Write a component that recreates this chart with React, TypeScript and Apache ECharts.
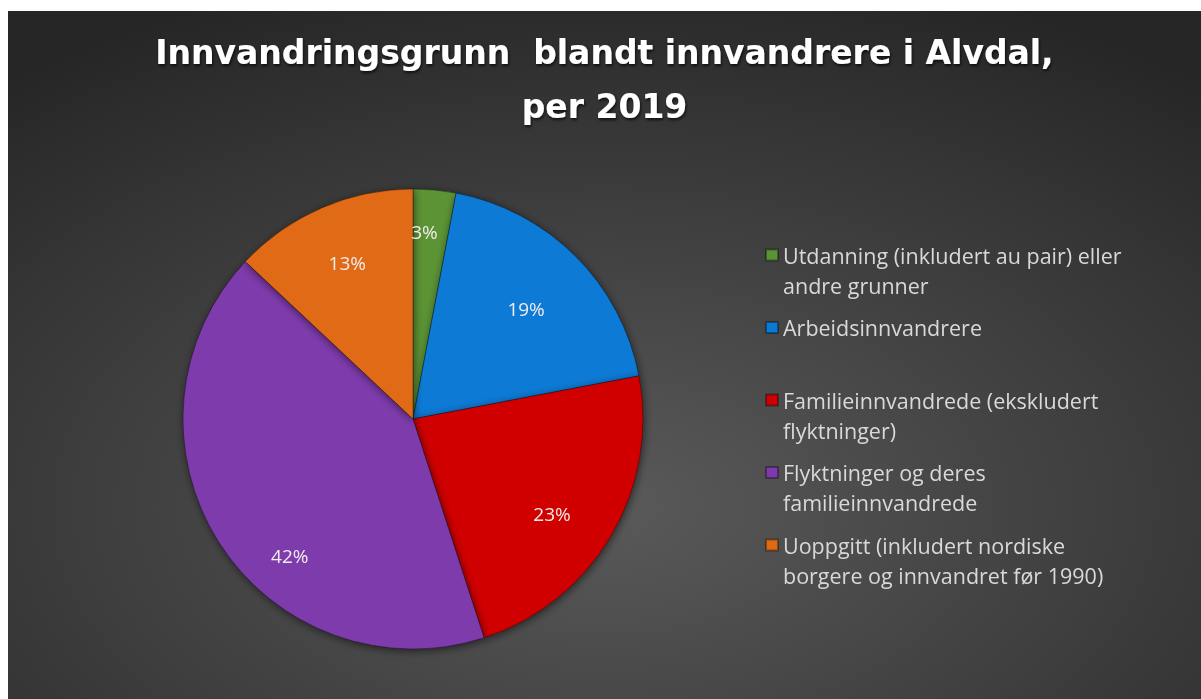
import React, { useEffect, useRef } from "react";
import * as echarts from "echarts";

const titleText = "Innvandringsgrunn  blandt innvandrere i Alvdal,\nper 2019";
const categories = [
  "Utdanning (inkludert au pair) eller andre grunner",
  "Arbeidsinnvandrere",
  "Familieinnvandrede (ekskludert flyktninger)",
  "Flyktninger og deres familieinnvandrede",
  "Uoppgitt (inkludert nordiske borgere og innvandret før 1990)",
];
const legendLines = [
  "Utdanning (inkludert au pair) eller\nandre grunner",
  "Arbeidsinnvandrere\n ",
  "Familieinnvandrede (ekskludert\nflyktninger)",
  "Flyktninger og deres\nfamilieinnvandrede",
  "Uoppgitt (inkludert nordiske\nborgere og innvandret før 1990)",
];
const values = [3, 19, 23, 42, 13];
const colors = ["#5B9436", "#0B7AD5", "#D10000", "#7E3AAC", "#E06A12"];

export default function App() {
  const ref = useRef<HTMLDivElement>(null);
  useEffect(() => {
    if (!ref.current) return;
    const chart = echarts.init(ref.current, null, { renderer: "svg" });
    const data = categories.map((name, i) => ({
      name,
      value: values[i],
      itemStyle: { color: colors[i] },
    }));
    const legendMap: Record<string, string> = {};
    categories.forEach((c, i) => (legendMap[c] = "\n" + legendLines[i]));
    const labelOffsets = [
      [-5, -12],
      [-11, 14],
      [-12, 6],
      [25, 43],
      [4, 5],
    ];
    chart.setOption({
      animation: false,
      backgroundColor: {
        type: "radial",
        x: 0.5,
        y: 0.72,
        r: 0.8,
        colorStops: [
          { offset: 0, color: "#5a5a5a" },
          { offset: 1, color: "#262626" },
        ],
      },
      title: {
        text: titleText,
        left: "center",
        top: 9,
        textStyle: {
          fontFamily: "DejaVu Sans",
          fontWeight: "bold",
          fontSize: 33,
          lineHeight: 54,
          color: "#ffffff",
          textShadowColor: "rgba(0,0,0,0.7)",
          textShadowBlur: 3,
          textShadowOffsetX: 1,
          textShadowOffsetY: 2,
        },
      },
      legend: {
        orient: "vertical",
        left: 757,
        top: 199,
        padding: 0,
        itemGap: -17.5,
        itemWidth: 12,
        itemHeight: 11,
        icon: "rect",
        selectedMode: false,
        data: categories,
        formatter: (name: string) => legendMap[name],
        textStyle: {
          fontFamily: "Open Sans",
          fontSize: 21.5,
          lineHeight: 30,
          color: "#d9d9d9",
        },
      },
      series: [
        {
          type: "pie",
          center: [405, 408],
          radius: 230,
          startAngle: 90,
          clockwise: true,
          silent: true,
          label: { show: false },
          labelLine: { show: false },
          itemStyle: {
            borderColor: "rgba(0,0,0,0.35)",
            borderWidth: 1,
            shadowBlur: 8,
            shadowColor: "rgba(0,0,0,0.55)",
            shadowOffsetX: 1,
            shadowOffsetY: 2,
          },
          data,
        },
        {
          type: "pie",
          center: [405, 408],
          radius: [115, 230],
          startAngle: 90,
          clockwise: true,
          silent: true,
          legendHoverLink: false,
          itemStyle: { color: "transparent", borderWidth: 0 },
          label: {
            show: true,
            position: "inside",
            formatter: "{d}%",
            fontFamily: "Open Sans",
            fontSize: 19,
            color: "#f0ecec",
          },
          labelLine: { show: false },
          data: categories.map((name, i) => ({
            name,
            value: values[i],
            label: { offset: labelOffsets[i] },
          })),
        },
      ],
    });
    return () => chart.dispose();
  }, []);
  return (
    <div
      ref={ref}
      style={{ position: "fixed", left: 8, top: 11, width: 1193, height: 688 }}
    />
  );
}
